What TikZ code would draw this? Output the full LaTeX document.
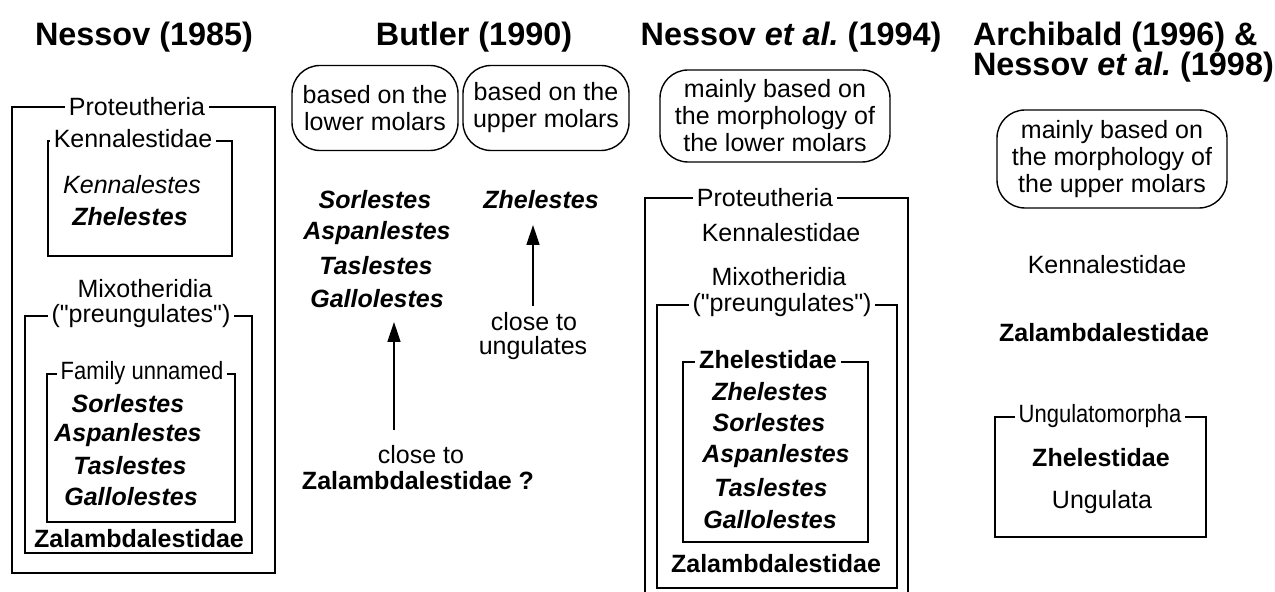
\documentclass[tikz,border=0pt]{standalone}
\usepackage{fontspec}
\setmainfont{Liberation Sans}
\newfontfamily\narrowfont[FakeStretch=0.88]{Liberation Sans}
\usetikzlibrary{arrows.meta}
\newcommand{\bodysize}{\fontsize{12.5}{13.5}\selectfont}
\newcommand{\headsize}{\fontsize{16.2}{18}\selectfont}
\tikzset{
  head/.style={font=\headsize\bfseries},
  taxon/.style={font=\bodysize},
  fam/.style={font=\bodysize\bfseries},
  genus/.style={font=\bodysize\bfseries\itshape},
  tag/.style={fill=white,inner sep=2pt,font=\bodysize},
  note/.style={draw,line width=0.7pt,rounded corners=14pt,align=center,font=\bodysize,inner sep=0pt},
  grp/.style={line width=0.7pt},
  up/.style={line width=0.7pt,-{Triangle[length=10pt,width=6.5pt]}}
}
\begin{document}
\begin{tikzpicture}[x=0.5pt,y=-0.5pt]
    \useasboundingbox (0,0) rectangle (1275,592);
    % headings
    \node[head] (h1) at (144,37) {Nessov (1985)};
    \node[head] (h2) at (474,37) {Butler (1990)};
    \node[head] (h3) at (791,37) {Nessov \textit{et al.}\ (1994)};
    \node[head,anchor=west] (h4) at (966,37) {Archibald (1996) \&};
    \node[head,anchor=west] (h5) at (966,67) {Nessov \textit{et al.}\ (1998)};

    % Nessov (1985)
    \draw[grp] (12,107) rectangle (275,573);
    \draw[grp] (48,141) rectangle (232,256);
    \draw[grp] (25,316) rectangle (252,553);
    \draw[grp] (47,374) rectangle (235,522);
    \node[tag] (prot1) at (137,107) {Proteutheria};
    \node[tag] (kenn1) at (133,139) {Kennalestidae};
    \node[taxon] (kens1) at (132,185) {\itshape Kennalestes};
    \node[genus] (zhel1) at (130,217) {Zhelestes};
    \node[taxon] (mixo1) at (145,289) {Mixotheridia};
    \node[tag] (preu1) at (141,316) {(\textquotedbl preungulates\textquotedbl)};
    \node[tag,font=\bodysize\narrowfont] (fam1) at (142,373) {Family unnamed};
    \node[genus] (sorl1) at (128,404) {Sorlestes};
    \node[genus] (aspa1) at (128,435) {Aspanlestes};
    \node[genus] (tasl1) at (130,466) {Taslestes};
    \node[genus] (gall1) at (131,497) {Gallolestes};
    \node[fam] (zala1) at (139,539) {Zalambdalestidae};

    % Butler (1990)
    \node[note,minimum width=83pt,minimum height=42.5pt] (low2) at (375,108) {based on the\\lower molars};
    \node[note,minimum width=83pt,minimum height=42.5pt] (upp2) at (546,108) {based on the\\upper molars};
    \node[genus] (sorl2) at (375,200) {Sorlestes};
    \node[genus] (aspa2) at (377,233) {Aspanlestes};
    \node[genus] (tasl2) at (376,266) {Taslestes};
    \node[genus] (gall2) at (377,299) {Gallolestes};
    \node[genus] (zhel2) at (541,200) {Zhelestes};
    \node[taxon] (clo2a) at (421,455) {close to};
    \node[fam] (zala2) at (418,481) {Zalambdalestidae ?};
    \node[taxon] (clo2b) at (534,322) {close to};
    \node[taxon] (ungu2) at (533,348) {ungulates};
    \coordinate (a1) at (394,430);
    \coordinate (b1) at (394,322);
    \coordinate (a2) at (533,306);
    \coordinate (b2) at (533,225);
    \draw[up] (a1) -- (b1);
    \draw[up] (a2) -- (b2);

    % Nessov et al. (1994)
    \node[note,minimum width=115pt,minimum height=46pt] (low3) at (775,116) {mainly based on\\the morphology of\\the lower molars};
    \draw[grp] (645,592) -- (645,198) -- (908,198) -- (908,592);
    \draw[grp] (657,305) rectangle (897,588);
    \draw[grp] (683,362) rectangle (868,542);
    \node[tag] (prot3) at (765,198) {Proteutheria};
    \node[taxon] (kenn3) at (781,233) {Kennalestidae};
    \node[taxon] (mixo3) at (779,277) {Mixotheridia};
    \node[tag] (preu3) at (782,305) {(\textquotedbl preungulates\textquotedbl)};
    \node[tag,font=\bodysize\bfseries] (zhfa3) at (768,360) {Zhelestidae};
    \node[genus] (zhel3) at (770,392) {Zhelestes};
    \node[genus] (sorl3) at (769,423) {Sorlestes};
    \node[genus] (aspa3) at (776,456) {Aspanlestes};
    \node[genus] (tasl3) at (771,488) {Taslestes};
    \node[genus] (gall3) at (770,520) {Gallolestes};
    \node[fam] (zala3) at (776,564) {Zalambdalestidae};

    % Archibald (1996) & Nessov et al. (1998)
    \node[note,minimum width=115pt,minimum height=49pt] (upp4) at (1112,159) {mainly based on\\the morphology of\\the upper molars};
    \node[taxon] (kenn4) at (1107,265) {Kennalestidae};
    \node[fam] (zala4) at (1104,333) {Zalambdalestidae};
    \draw[grp] (995,417) rectangle (1206,537);
    \node[tag,font=\bodysize\narrowfont] (ungm4) at (1100,416) {Ungulatomorpha};
    \node[fam] (zhfa4) at (1101,458) {Zhelestidae};
    \node[taxon] (ungu4) at (1102,502) {Ungulata};
\end{tikzpicture}
\end{document}
